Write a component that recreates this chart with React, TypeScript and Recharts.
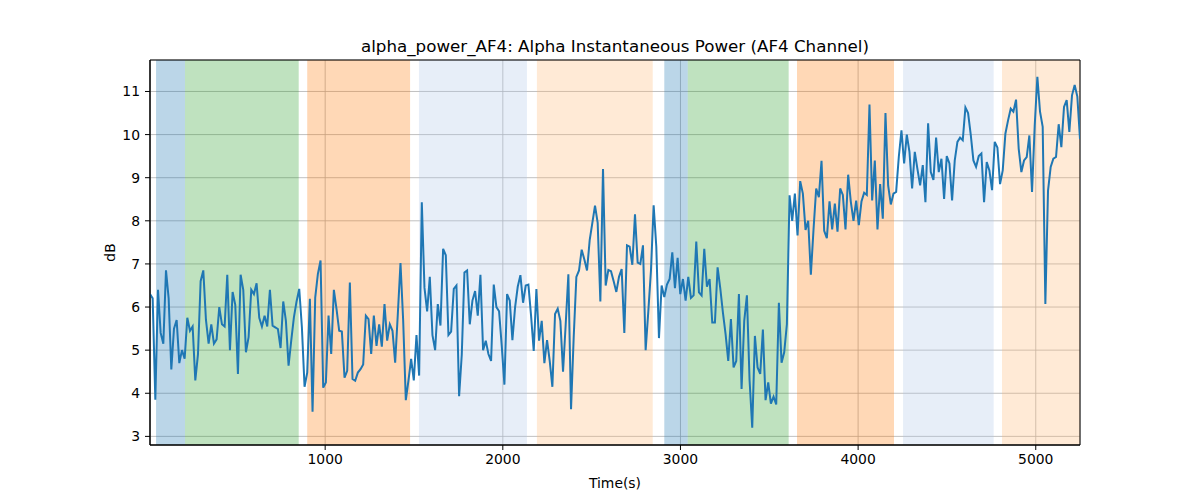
import { LineChart, Line, XAxis, YAxis, CartesianGrid, ReferenceArea, Label } from 'recharts';

// sampled every 15 s starting at t = 14 s
const T_START = 14;
const T_STEP = 15;

const alphaPower = [
  6.3, 6.2, 3.85, 6.4, 5.4, 5.15, 6.85, 6.2, 4.55, 5.5, 5.7, 4.7, 5.0, 4.8, 5.75, 5.45, 5.55, 4.3, 4.9, 6.6,
  6.85, 5.7, 5.15, 5.6, 5.15, 5.25, 6.0, 5.6, 5.55, 6.75, 5.0, 6.35, 6.05, 4.45, 6.75, 6.4, 4.95, 5.3, 6.4, 6.3,
  6.55, 5.75, 5.55, 5.8, 5.55, 6.4,
  5.57, 5.53, 5.49, 5.05, 6.13, 5.68, 4.64, 5.22, 5.76, 6.13, 6.42, 5.53, 4.15, 4.48, 6.19, 3.57, 6.22, 6.77, 7.08, 4.13,
  4.25, 5.8, 4.91, 6.4, 5.95, 5.45, 5.43, 4.36, 4.52, 6.57, 4.33, 4.29, 4.48, 4.56, 4.67, 5.8, 5.72, 4.91, 5.8, 5.1,
  5.6, 5.08, 6.07, 5.22, 5.6,
  5.45, 4.71, 5.84, 7.02, 5.7, 3.84, 4.3, 4.8, 4.3, 5.35, 4.41, 8.43, 6.45, 5.9, 6.7, 5.35, 5.0, 6.07, 5.57, 7.35,
  7.2, 5.35, 5.43, 6.42, 6.5, 3.93, 4.9, 6.8, 6.85, 5.6, 6.15, 6.37, 5.8, 6.75, 5.0, 5.22, 4.91, 4.75, 6.52, 6.0,
  5.9, 5.1, 4.2, 6.3, 6.15,
  5.23, 5.99, 6.47, 6.74, 6.1, 6.5, 6.52, 5.8, 4.98, 6.42, 5.22, 5.68, 4.7, 5.23, 4.75, 4.15, 5.84, 5.96, 5.68, 4.5,
  5.6, 6.76, 3.63, 5.3, 6.7, 6.85, 7.33, 7.1, 6.85, 7.55, 7.95, 8.35, 7.95, 6.13, 9.2, 6.5, 6.86, 6.83, 6.6, 6.35,
  6.7, 6.88, 5.4, 7.43, 7.4,
  6.98, 8.15, 7.03, 7.0, 7.43, 5.0, 5.9, 6.85, 8.36, 7.4, 5.28, 6.5, 6.23, 6.52, 6.65, 7.27, 6.44, 7.14, 6.3, 6.65,
  6.15, 6.7, 6.21, 6.27, 7.52, 6.34, 6.27, 7.35, 6.47, 6.65, 5.64, 5.64, 6.92, 6.44, 5.87, 5.37, 4.75, 5.72, 4.6, 4.75,
  6.3, 4.1, 5.68, 6.27,
  4.3, 3.2, 5.33, 4.6, 4.45, 5.48, 3.84, 4.25, 3.76, 3.92, 3.74, 6.1, 4.71, 4.95, 5.6, 8.59, 8.0, 8.63, 7.66, 8.92,
  8.63, 7.79, 8.0, 6.75, 7.8, 8.75, 8.55, 9.39, 7.77, 7.6, 8.45, 7.8, 8.4, 7.75, 8.75, 8.6, 7.8, 9.07, 8.44, 8.0,
  8.47, 7.9, 8.45, 8.65, 8.6, 10.7,
  8.47, 9.4, 7.8, 8.85, 8.05, 10.5, 8.82, 8.38, 8.63, 8.67, 9.48, 10.1, 9.33, 10.0, 9.6, 8.75, 9.6, 9.2, 8.82, 9.29,
  8.43, 10.26, 9.13, 8.95, 9.93, 9.13, 9.44, 8.51, 9.5, 9.33, 8.47, 9.4, 9.83, 9.93, 9.87, 10.63, 10.5, 10.0, 9.4, 9.25,
  9.5, 9.56, 8.43, 9.36, 9.17,
  8.71, 9.83, 9.7, 8.85, 9.17, 10.02, 10.33, 10.6, 10.53, 10.81, 9.67, 9.13, 9.4, 9.48, 9.98, 8.67, 10.2, 11.34, 10.53, 10.18,
  6.07, 8.7, 9.25, 9.44, 9.48, 10.24, 9.71, 10.64, 10.8, 10.06, 10.91, 11.15, 10.88, 9.9,
];

// shaded task segments
const spanStarts = [48, 211, 899, 1528, 2192, 2909, 3041, 3656, 4253, 4810];
const spanEnds = [211, 851, 1478, 2136, 2844, 3041, 3609, 4202, 4763, 5249];
const spanColors = ['#1f77b4', '#2ca02c', '#ff7f0e', '#aec7e8', '#ffbb78', '#1f77b4', '#2ca02c', '#ff7f0e', '#aec7e8', '#ffbb78'];

const xTicks = [1000, 2000, 3000, 4000, 5000];
const yTicks = [3, 4, 5, 6, 7, 8, 9, 10, 11];
const X_DOMAIN = [14, 5249];
const Y_DOMAIN = [2.8, 11.73];

const FONT = '"DejaVu Sans", sans-serif';

const data = alphaPower.map((v, i) => ({ time: T_START + i * T_STEP, power: v }));

const App = () => {
  return (
    <div style={{ position: 'absolute', left: 0, top: 0, width: 1200, height: 500, background: '#fff', fontFamily: FONT }}>
      <div
        style={{
          position: 'absolute',
          left: 150,
          width: 930,
          top: 36,
          lineHeight: '20px',
          textAlign: 'center',
          fontSize: 16.7,
          color: '#000',
        }}
      >
        alpha_power_AF4: Alpha Instantaneous Power (AF4 Channel)
      </div>
      <LineChart width={1200} height={500} data={data} margin={{ top: 60, right: 120, bottom: 15, left: 90 }}>
        <CartesianGrid stroke="#b0b0b0" strokeWidth={0.8} />
        {spanStarts.map((s, i) => (
          <ReferenceArea
            key={i}
            x1={s}
            x2={spanEnds[i]}
            fill={spanColors[i]}
            fillOpacity={0.3}
            stroke="none"
            ifOverflow="hidden"
          />
        ))}
        <XAxis
          dataKey="time"
          type="number"
          domain={X_DOMAIN}
          ticks={xTicks}
          allowDataOverflow
          height={40}
          tickSize={5}
          tickMargin={4}
          tick={{ fill: '#000', fontSize: 13.9, fontFamily: FONT }}
          tickLine={{ stroke: '#000' }}
          axisLine={{ stroke: '#000' }}
        >
          <Label value="Time(s)" position="insideBottom" offset={-3} fill="#000" fontSize={13.9} fontFamily={FONT} />
        </XAxis>
        <YAxis
          type="number"
          domain={Y_DOMAIN}
          ticks={yTicks}
          allowDataOverflow
          width={60}
          tickSize={5}
          tickMargin={5}
          tick={{ fill: '#000', fontSize: 13.9, fontFamily: FONT }}
          tickLine={{ stroke: '#000' }}
          axisLine={{ stroke: '#000' }}
        >
          <Label
            value="dB"
            angle={-90}
            position="insideLeft"
            offset={20}
            fill="#000"
            fontSize={13.9}
            fontFamily={FONT}
            style={{ textAnchor: 'middle' }}
          />
        </YAxis>
        <Line
          type="linear"
          dataKey="power"
          stroke="#1f77b4"
          strokeWidth={2}
          dot={false}
          isAnimationActive={false}
        />
        <ReferenceArea x1={X_DOMAIN[0]} x2={X_DOMAIN[1]} y1={Y_DOMAIN[0]} y2={Y_DOMAIN[1]} fill="none" stroke="#000" strokeWidth={1} />
      </LineChart>
    </div>
  );
};

export default App;
